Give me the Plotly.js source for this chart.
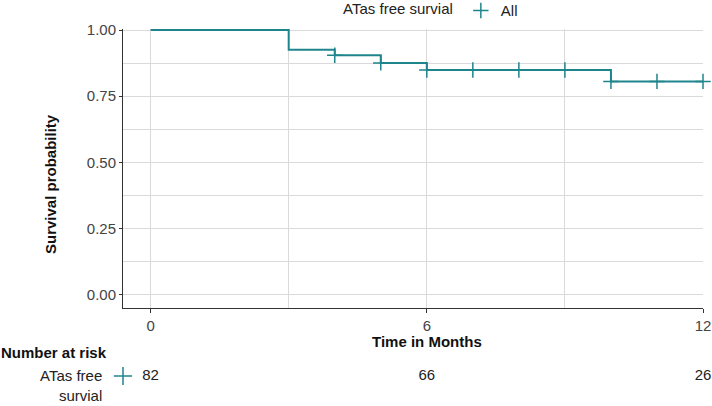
<!DOCTYPE html>
<html>
<head>
<meta charset="utf-8">
<script src="https://cdn.plot.ly/plotly-3.0.1.min.js"></script>
<style>
  html, body { margin: 0; padding: 0; background: #fff; }
  #km-plot { width: 712px; height: 406px; }
</style>
</head>
<body>
<div id="km-plot"></div>
<script>
// Kaplan-Meier steps (time in months, survival probability)
let stepTimes = [0, 3, 4, 5, 6, 10, 12];
let stepSurv = [1.0, 0.926, 0.905, 0.876, 0.849, 0.806, 0.806];

// Censored observations
let censorTimes = [4, 5, 6, 7, 8, 9, 10, 11, 12];
let censorSurv = [0.905, 0.876, 0.849, 0.849, 0.849, 0.849, 0.806, 0.806, 0.806];

// Number at risk table
let riskGroup = "ATas free survial";
let riskTimes = [0, 6, 12];
let riskCounts = [82, 66, 26];

let xTicks = [0, 6, 12];
let yTicks = [0, 0.25, 0.5, 0.75, 1.0];
let yTickText = ["0.00", "0.25", "0.50", "0.75", "1.00"];

let teal = "#1f858d";
let fontFam = "Liberation Sans, Arial, sans-serif";

// Survival curve
let curve = {
    x: stepTimes,
    y: stepSurv,
    type: "scatter",
    mode: "lines",
    line: { shape: "hv", color: teal, width: 2 },
    showlegend: false,
    hoverinfo: "skip"
};

// Censor marks, also used as the legend entry
let censors = {
    x: censorTimes,
    y: censorSurv,
    type: "scatter",
    mode: "markers",
    name: "All",
    marker: { symbol: "cross-thin", size: 11, line: { color: teal, width: 1.5 }, color: teal },
    cliponaxis: false
};

// Risk table numbers
let riskText = {
    x: riskTimes,
    y: riskTimes.map(() => riskGroup),
    text: riskCounts.map(String),
    type: "scatter",
    mode: "text",
    textfont: { family: fontFam, size: 15, color: "#222" },
    xaxis: "x2",
    yaxis: "y2",
    showlegend: false,
    cliponaxis: false,
    hoverinfo: "skip"
};

// Risk table colour key, sits on the left edge of the table
let riskKey = {
    x: [-0.6],
    y: [riskGroup],
    type: "scatter",
    mode: "markers",
    marker: { symbol: "cross-thin", size: 13, line: { color: teal, width: 1.5 }, color: teal },
    xaxis: "x2",
    yaxis: "y2",
    showlegend: false,
    cliponaxis: false,
    hoverinfo: "skip"
};

let layout = {
    width: 712,
    height: 406,
    margin: { l: 123, r: 9, t: 29, b: 6, autoexpand: false },
    paper_bgcolor: "#fff",
    plot_bgcolor: "#fff",
    font: { family: fontFam, size: 15, color: "#222" },
    showlegend: true,
    legend: {
        orientation: "h",
        x: 0.376, xanchor: "left",
        y: 1.049, yanchor: "middle",
        title: { text: "ATas free survial", side: "left", font: { size: 15, color: "#222" } },
        font: { size: 15, color: "#222" },
        bgcolor: "rgba(0,0,0,0)"
    },
    xaxis: {
        range: [-0.6, 12],
        tickvals: xTicks,
        ticktext: xTicks.map(String),
        ticks: "outside",
        ticklen: 4,
        tickcolor: "#333",
        tickfont: { size: 15, color: "#444" },
        showline: true,
        linecolor: "#333",
        linewidth: 1,
        showgrid: true,
        gridcolor: "#dadada",
        gridwidth: 1,
        minor: { dtick: 3, tick0: 0, showgrid: true, gridcolor: "#dadada", gridwidth: 1 },
        zeroline: false,
        anchor: "y",
        automargin: false,
        fixedrange: true
    },
    yaxis: {
        domain: [0.248, 1],
        range: [-0.05, 1.004],
        tickvals: yTicks,
        ticktext: yTickText,
        ticks: "outside",
        ticklen: 3,
        tickcolor: "#333",
        tickfont: { size: 15, color: "#444" },
        showline: true,
        linecolor: "#333",
        linewidth: 1,
        showgrid: true,
        gridcolor: "#dadada",
        gridwidth: 1,
        minor: { dtick: 0.125, tick0: 0, showgrid: true, gridcolor: "#dadada", gridwidth: 1 },
        zeroline: false,
        anchor: "x",
        automargin: false,
        fixedrange: true
    },
    xaxis2: {
        matches: "x",
        anchor: "y2",
        visible: false,
        showgrid: false
    },
    yaxis2: {
        domain: [0.0108, 0.1186],
        type: "category",
        range: [-0.5, 0.5],
        visible: false,
        showgrid: false,
        anchor: "x2"
    },
    annotations: [
        {
            text: "<b>Time in Months</b>",
            xref: "x", yref: "paper",
            x: 6, y: 0.159,
            xanchor: "center", yanchor: "middle",
            showarrow: false,
            font: { size: 15, color: "#111" }
        },
        {
            text: "<b>Survival probability</b>",
            xref: "paper", yref: "paper",
            x: -0.126, y: 0.582,
            xanchor: "center", yanchor: "middle",
            textangle: -90,
            showarrow: false,
            font: { size: 15, color: "#111" }
        },
        {
            text: "<b>Number at risk</b>",
            xref: "paper", yref: "paper",
            x: -0.2138, y: 0.1267,
            xanchor: "left", yanchor: "middle",
            showarrow: false,
            font: { size: 15, color: "#111" }
        },
        {
            text: "ATas free<br>survial",
            xref: "paper", yref: "paper",
            x: -0.0328, y: 0.094,
            xanchor: "right", yanchor: "top",
            align: "right",
            showarrow: false,
            font: { size: 15, color: "#222" }
        }
    ]
};

Plotly.newPlot("km-plot", [curve, censors, riskText, riskKey], layout, { staticPlot: true, displayModeBar: false });
</script>
</body>
</html>
